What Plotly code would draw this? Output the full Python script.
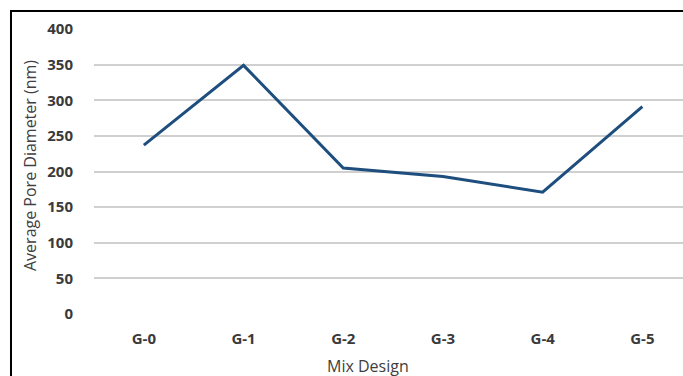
import plotly.graph_objects as go

categories = ["G-0", "G-1", "G-2", "G-3", "G-4", "G-5"]
pore_diameter = [237, 349, 205, 193, 171, 291]
y_ticks = [0, 50, 100, 150, 200, 250, 300, 350, 400]

W, H = 683, 376
L, R, T, B = 94, 0, 29, 62
pw = W - L - R
ph = H - T - B


def px_x(px):
    return (px - L) / pw


def px_y(py):
    return (H - B - py) / ph


fig = go.Figure()
fig.add_trace(go.Scatter(
    x=list(range(len(categories))), y=pore_diameter, mode="lines",
    line=dict(color="#1D4E7E", width=3), cliponaxis=False,
    hoverinfo="skip", showlegend=False))

tick_font = dict(size=15, color="#3A3A3A", family="Open Sans", weight="bold")

fig.update_layout(
    width=W, height=H,
    margin=dict(l=L, r=R, t=T, b=B),
    paper_bgcolor="white", plot_bgcolor="white",
    font=dict(family="Open Sans", color="#404040"),
    xaxis=dict(
        range=[-0.5, -0.5 + pw / 99.7],
        tickmode="array", tickvals=list(range(len(categories))), ticktext=categories,
        showgrid=False, zeroline=False, showline=False, ticks="",
        tickfont=tick_font, ticklabelstandoff=14,
    ),
    yaxis=dict(
        range=[0, 400], tickmode="array", tickvals=y_ticks,
        showgrid=True, gridcolor="#D0D0D0", gridwidth=1.5,
        zeroline=False, showline=False, ticks="",
        tickfont=tick_font, ticklabelstandoff=20,
    ),
    shapes=[
        dict(type="line", xref="paper", yref="paper",
             x0=px_x(11), x1=px_x(11), y0=px_y(10), y1=px_y(400),
             line=dict(color="black", width=2)),
        dict(type="line", xref="paper", yref="paper",
             x0=px_x(10), x1=px_x(700), y0=px_y(11), y1=px_y(11),
             line=dict(color="black", width=2)),
    ],
    annotations=[
        dict(text="Mix Design", xref="paper", yref="paper",
             x=px_x(368), y=px_y(366),
             showarrow=False, font=dict(size=16, color="#404040"),
             xanchor="center", yanchor="middle"),
        dict(text="Average Pore Diameter (nm)", xref="paper", yref="paper",
             x=px_x(30), y=px_y(166), textangle=-90,
             showarrow=False, font=dict(size=16, color="#404040"),
             xanchor="center", yanchor="middle"),
    ],
)

fig.write_html(
    "out.html",
    config={"displayModeBar": False},
    post_script="document.body.style.margin='0';document.body.style.overflow='hidden';",
)
